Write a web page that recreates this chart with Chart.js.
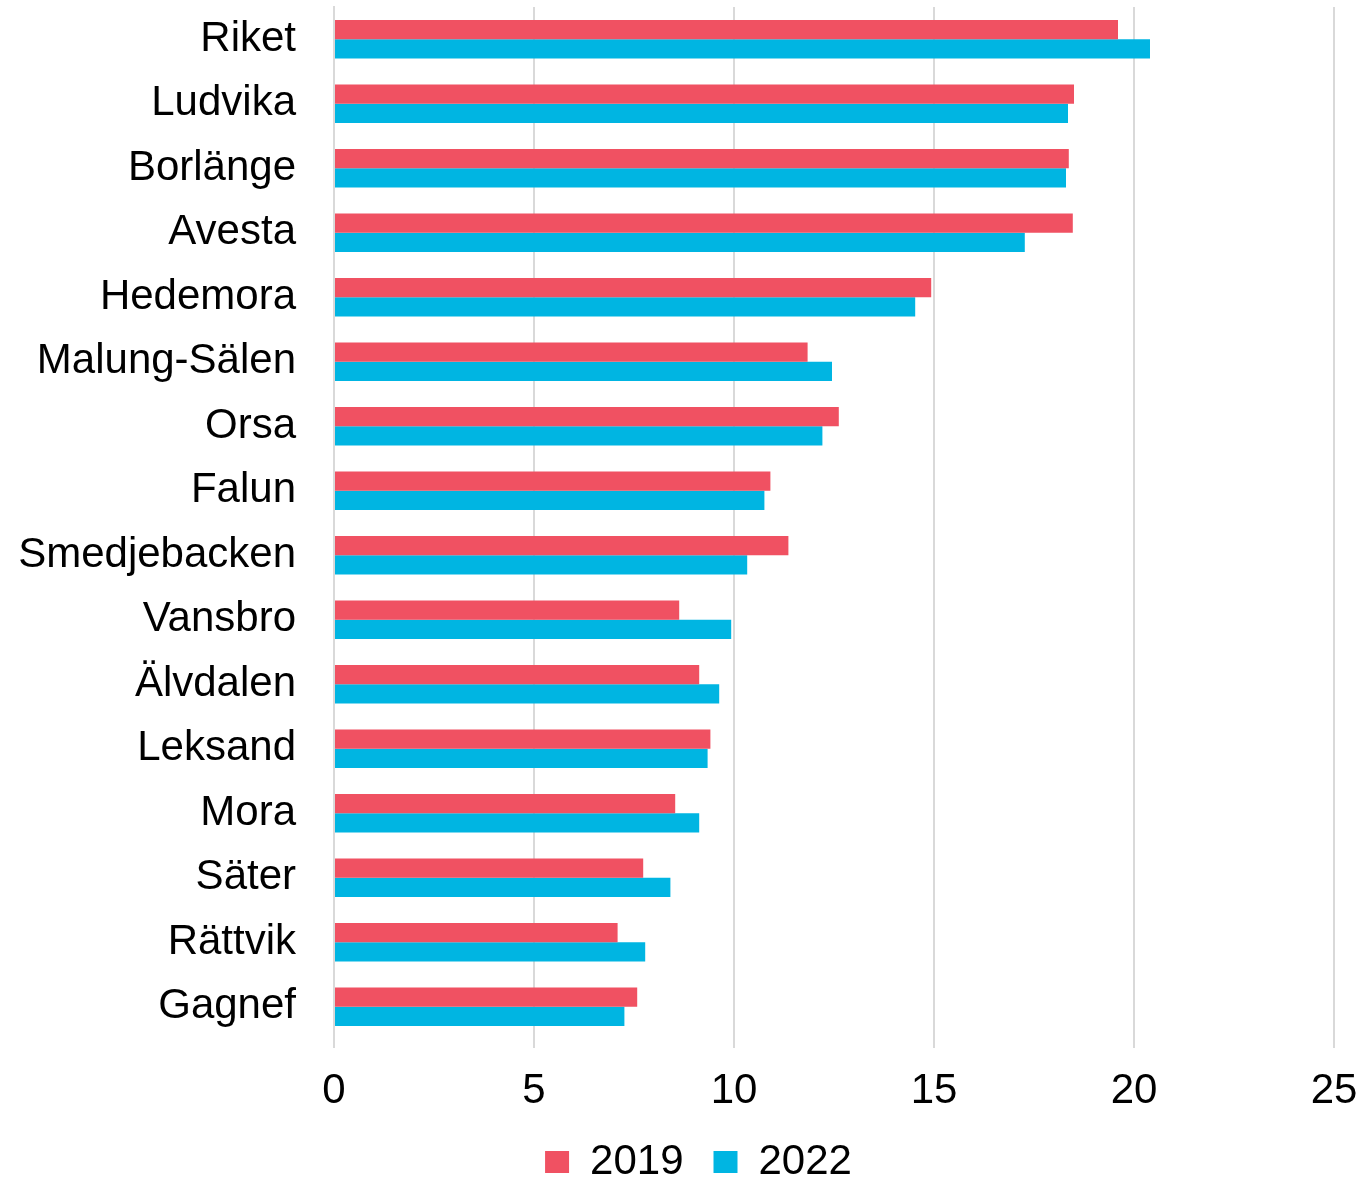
<!DOCTYPE html>
<html>
<head>
<meta charset="utf-8">
<script src="https://cdn.jsdelivr.net/npm/chart.js@4/dist/chart.umd.min.js"></script>
<style>
  html, body { margin: 0; padding: 0; background: #fff; }
  #wrap { width: 1370px; height: 1182px; }
</style>
</head>
<body>
<div id="wrap"><canvas id="chart"></canvas></div>
<script>
const kommuner = ['Riket', 'Ludvika', 'Borlänge', 'Avesta', 'Hedemora', 'Malung-Sälen', 'Orsa', 'Falun',
  'Smedjebacken', 'Vansbro', 'Älvdalen', 'Leksand', 'Mora', 'Säter', 'Rättvik', 'Gagnef'];
const varden2019 = [19.6, 18.5, 18.37, 18.47, 14.93, 11.84, 12.62, 10.91, 11.36, 8.63, 9.13, 9.41, 8.53, 7.73, 7.09, 7.58];
const varden2022 = [20.4, 18.35, 18.3, 17.27, 14.53, 12.45, 12.21, 10.76, 10.33, 9.93, 9.63, 9.34, 9.13, 8.41, 7.78, 7.26];
const xTicks = [0, 5, 10, 15, 20, 25];

Chart.defaults.font.family = '"Liberation Sans", Arial, sans-serif';
Chart.defaults.color = '#000';

const ctx = document.getElementById('chart');

new Chart(ctx, {
  type: 'bar',
  data: {
    labels: kommuner,
    datasets: [{
      label: '2019',
      data: varden2019,
      backgroundColor: '#f05162',
      borderWidth: 0
    }, {
      label: '2022',
      data: varden2022,
      backgroundColor: '#00b5e2',
      borderWidth: 0
    }]
  },
  options: {
    indexAxis: 'y',
    responsive: true,
    maintainAspectRatio: false,
    animation: false,
    datasets: {
      bar: {
        categoryPercentage: 0.6,
        barPercentage: 1.0
      }
    },
    plugins: {
      legend: {
        display: true,
        position: 'bottom',
        labels: {
          font: { size: 42 },
          boxWidth: 24,
          boxHeight: 22,
          padding: 30
        }
      },
      tooltip: { enabled: false }
    },
    scales: {
      x: {
        min: 0,
        max: 25,
        afterBuildTicks: (scale) => {
          scale.ticks = xTicks.map(v => ({ value: v }));
        },
        afterFit: (scale) => {
          // fast höjd och marginal till höger, som i originalet
          scale.height = 72;
          scale.paddingLeft = 0;
          scale.paddingRight = 36;
        },
        grid: {
          color: '#d9d9d9',
          lineWidth: 2,
          drawTicks: true,
          tickLength: 9
        },
        border: { display: false },
        ticks: {
          font: { size: 42 },
          padding: 18,
          maxRotation: 0
        }
      },
      y: {
        afterFit: (scale) => {
          scale.width = 334;
          scale.paddingTop = 0;
          scale.paddingBottom = 0;
        },
        grid: { display: false, drawTicks: false },
        border: { display: true, color: '#d9d9d9', width: 2 },
        ticks: {
          font: { size: 42 },
          padding: 38
        }
      }
    },
    layout: {
      // negativ höger-marginal flyttar förklaringen till samma läge som originalet
      padding: { left: 0, right: -27, top: 7, bottom: -11 }
    }
  }
});
</script>
</body>
</html>
